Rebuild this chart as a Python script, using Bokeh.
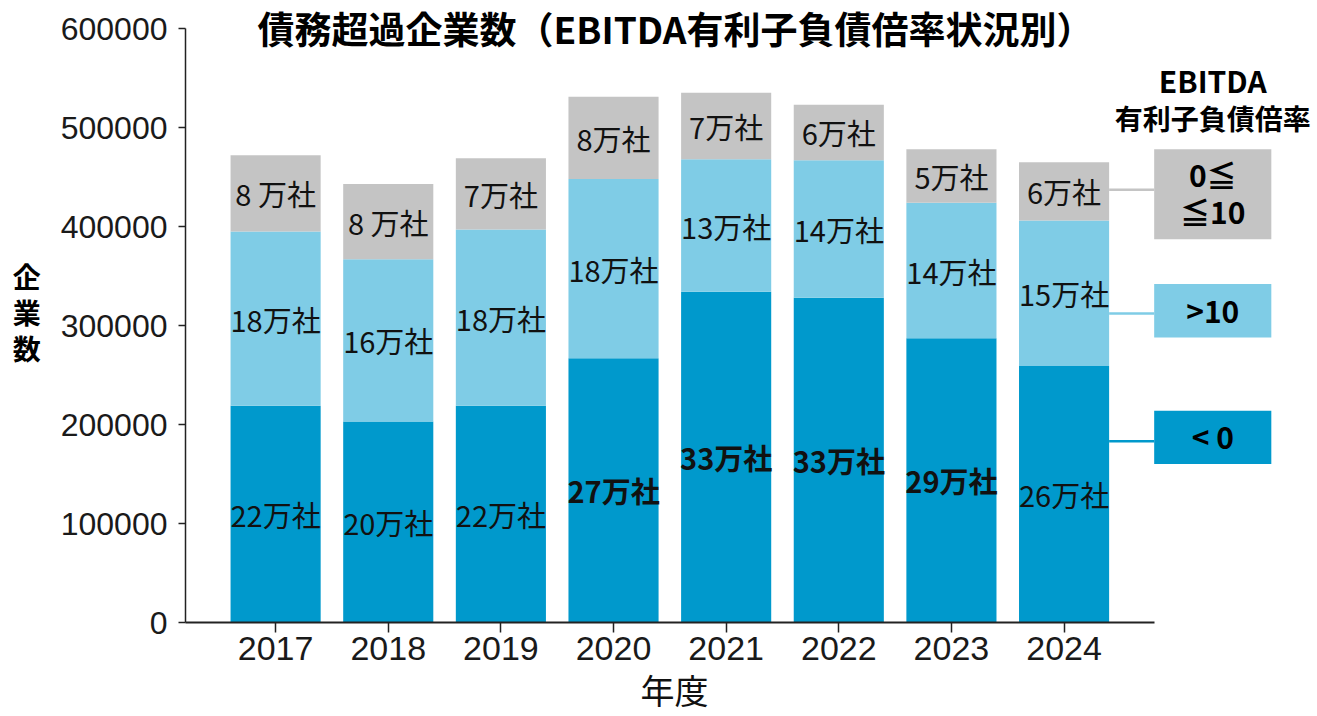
from bokeh.plotting import figure
from bokeh.models import ColumnDataSource, Range1d, FixedTicker, NumeralTickFormatter, Title
from bokeh.core.properties import value
from bokeh.embed import file_html
from bokeh.resources import INLINE

# ---------------- data ----------------
years = ["2017", "2018", "2019", "2020", "2021", "2022", "2023", "2024"]
neg = [219000, 203000, 219000, 267000, 334000, 328000, 287000, 259000]       # < 0
over10 = [176000, 164000, 178000, 181000, 134000, 139000, 137000, 147000]    # > 10
mid = [77000, 76000, 72000, 83000, 67000, 56000, 54000, 59000]               # 0 <= x <= 10

neg_labels = ["22万社", "20万社", "22万社", "27万社", "33万社", "33万社", "29万社", "26万社"]
over10_labels = ["18万社", "16万社", "18万社", "18万社", "13万社", "14万社", "14万社", "15万社"]
mid_labels = ["8 万社", "8 万社", "7万社", "8万社", "7万社", "6万社", "5万社", "6万社"]

y_ticks = [0, 100000, 200000, 300000, 400000, 500000, 600000]

title_text = "債務超過企業数（EBITDA有利子負債倍率状況別）"
x_title = "年度"
y_title = "企\n業\n数"
legend_title = ["EBITDA", "有利子負債倍率"]
legend_names = [["0≦", "≦10"], [">10"], ["< 0"]]

# ---------------- styles ----------------
C_NEG = "#0099CC"
C_OVER = "#7FCCE6"
C_MID = "#C4C4C4"
CJK = "Noto Sans CJK JP"
NUM = "Liberation Sans"
BOLD_NEG_YEARS = {"2020", "2021", "2022", "2023"}

xs = list(range(len(years)))
src = ColumnDataSource(dict(x=xs, neg=neg, over10=over10, mid=mid))

p = figure(width=1317, height=716, output_backend="svg", toolbar_location=None,
           x_range=Range1d(-0.80, 9.25), y_range=Range1d(0, 628283),
           min_border_left=185, min_border_bottom=94, min_border_top=0, min_border_right=0)
p.outline_line_color = None
p.grid.visible = False
p.background_fill_color = "white"
p.border_fill_color = "white"

p.vbar_stack(["neg", "over10", "mid"], x="x", width=0.8, source=src,
             color=[C_NEG, C_OVER, C_MID], line_color=None)

# segment labels
lx, ly, lt, lw = [], [], [], []
for i, yr in enumerate(years):
    b1 = neg[i]
    b2 = neg[i] + over10[i]
    b3 = b2 + mid[i]
    lx += [i, i, i]
    ly += [b1 / 2, (b1 + b2) / 2, (b2 + b3) / 2]
    lt += [neg_labels[i], over10_labels[i], mid_labels[i]]
    lw += ["bold" if yr in BOLD_NEG_YEARS else "normal", "normal", "normal"]
lsrc = ColumnDataSource(dict(x=lx, y=ly, text=lt, w=lw))
p.text(x="x", y="y", text="text", source=lsrc, text_align="center", text_baseline="middle",
       text_font=value(CJK), text_font_size="29px", text_font_style="w", text_color="#111111")

# title
p.text(x=[3.55], y=[628283], text=[title_text], text_align="center", text_baseline="top",
       text_font=value(CJK), text_font_size="37px", text_font_style="bold", text_color="#000000")

# legend (right side)
box_l, box_r = 7.80, 8.84
box_c = (box_l + box_r) / 2
boxes = [(387000, 478000, C_MID), (288000, 342000, C_OVER), (160000, 214000, C_NEG)]
line_y = [437000, 312000, 183000]
for (bb, bt, col), yy in zip(boxes, line_y):
    p.quad(left=[box_l], right=[box_r], bottom=[bb], top=[bt], color=col, line_color=None)
    p.segment(x0=[7.4], x1=[box_l], y0=[yy], y1=[yy], line_color=col, line_width=2.5)

leg_text_y = [[453500, 416000], [316000], [188000]]
for names, ys in zip(legend_names, leg_text_y):
    p.text(x=[box_c] * len(names), y=ys, text=names, text_align="center", text_baseline="middle",
           text_font=value(CJK), text_font_size="30px", text_font_style="bold", text_color="#000000")

p.text(x=[box_c], y=[547500], text=[legend_title[0]], text_align="center",
       text_baseline="middle", text_font=value(CJK), text_font_size="30px",
       text_font_style="bold", text_color="#000000")
p.text(x=[box_c], y=[510000], text=[legend_title[1]], text_align="center",
       text_baseline="middle", text_font=value(CJK), text_font_size="28px",
       text_font_style="bold", text_color="#000000")

# x-axis title, placed under the axis and centred on the bars
p.add_layout(Title(text=x_title, align="left", offset=455, standoff=0,
                   text_font=CJK, text_font_size="34px", text_font_style="normal",
                   text_color="#111111"), "below")

# axes
xa = p.xaxis[0]
xa.ticker = FixedTicker(ticks=xs)
xa.major_label_overrides = {i: y for i, y in enumerate(years)}
xa.bounds = (-0.8, 7.8)
xa.minor_tick_line_color = None
xa.major_tick_in = 0
xa.major_tick_out = 10
xa.major_tick_line_color = "#222222"
xa.major_tick_line_width = 1.5
xa.axis_line_color = "#222222"
xa.axis_line_width = 2
xa.major_label_text_font = NUM
xa.major_label_text_font_size = "34px"
xa.major_label_text_color = "#1a1a1a"
xa.major_label_standoff = 4

ya = p.yaxis[0]
ya.ticker = FixedTicker(ticks=y_ticks)
ya.formatter = NumeralTickFormatter(format="0")
ya.bounds = (0, 600000)
ya.minor_tick_line_color = None
ya.major_tick_in = 0
ya.major_tick_out = 7
ya.major_tick_line_color = "#222222"
ya.major_tick_line_width = 1.5
ya.axis_line_color = "#222222"
ya.axis_line_width = 1.5
ya.major_label_text_font = NUM
ya.major_label_text_font_size = "32px"
ya.major_label_text_color = "#1a1a1a"
ya.major_label_standoff = 11
ya.axis_label = y_title
ya.axis_label_orientation = "horizontal"
ya.axis_label_text_font = CJK
ya.axis_label_text_font_size = "28px"
ya.axis_label_text_font_style = "bold"
ya.axis_label_text_line_height = 0.9
ya.axis_label_text_color = "#000000"
ya.axis_label_standoff = 17

open("out.html", "w").write(file_html(p, INLINE))
